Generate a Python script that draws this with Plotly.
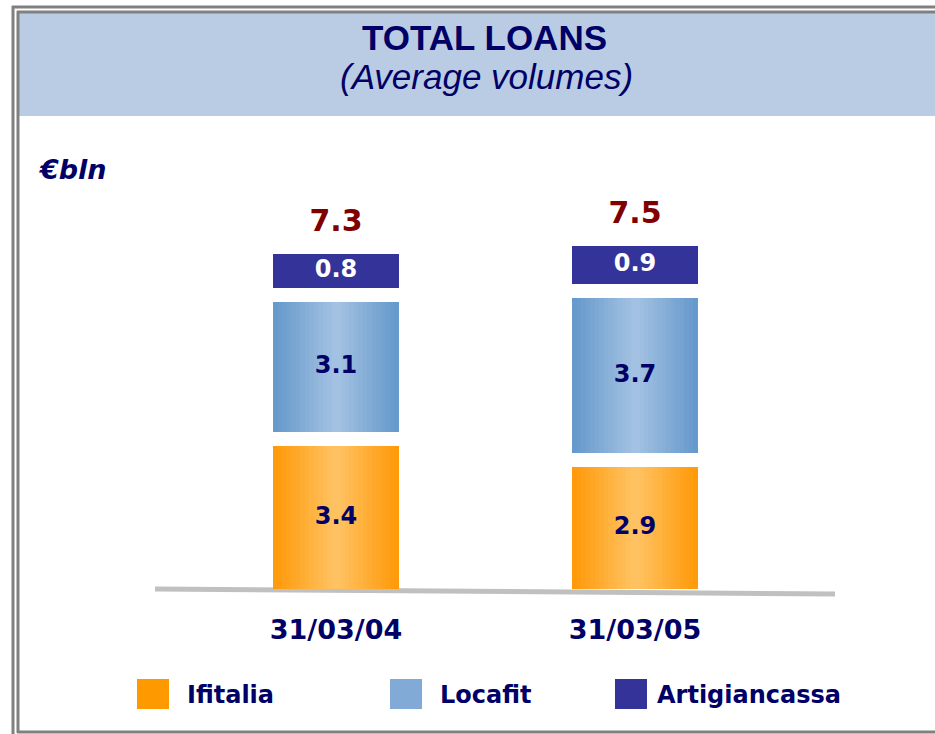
import plotly.graph_objects as go

# ---------------- data ----------------
categories = ["31/03/04", "31/03/05"]
series_names = ["Ifitalia", "Locafit", "Artigiancassa"]
ifitalia = [3.4, 2.9]
locafit = [3.1, 3.7]
artigiancassa = [0.8, 0.9]
totals = [7.3, 7.5]
unit_label = "€bln"
title_main = "TOTAL LOANS"
title_sub = "(Average volumes)"

# ---------------- styles ----------------
W, H = 935, 734
BASE_PX = 589          # pixel row of the baseline
PX_PER_UNIT = 42
GAP = 14 / PX_PER_UNIT  # white gap between stacked segments (data units)
TOTAL_PAD = 16 / PX_PER_UNIT
BAR_W = 0.421
NAVY = "#000066"
DARKRED = "#800000"
FONT = "DejaVu Sans, Verdana, sans-serif"
TITLE_FONT = "Liberation Sans, Arial, sans-serif"

grad = {
    "Ifitalia": ("#FF9A0A", "#FFC262"),
    "Locafit": ("#6699CC", "#A3C1E2"),
    "Artigiancassa": ("#333399", "#333399"),
}
legend_col = {"Ifitalia": "#FF9900", "Locafit": "#82AAD6", "Artigiancassa": "#333399"}
label_col = {"Ifitalia": NAVY, "Locafit": NAVY, "Artigiancassa": "white"}


def px_x(x):
    return x / W


def px_y(y):
    return (BASE_PX - y) / BASE_PX


def mix(c1, c2, t):
    a = [int(c1[i:i + 2], 16) for i in (1, 3, 5)]
    b = [int(c2[i:i + 2], 16) for i in (1, 3, 5)]
    return "#" + "".join(f"{round(a[k] + (b[k] - a[k]) * t):02x}" for k in range(3))


# stacked bases computed from data
values = {"Ifitalia": ifitalia, "Locafit": locafit, "Artigiancassa": artigiancassa}
bases = {}
running = [0.0, 0.0]
for name in series_names:
    bases[name] = list(running)
    running = [running[i] + values[name][i] + GAP for i in range(2)]
tops = [running[i] - GAP for i in range(2)]

fig = go.Figure()
N = 14
for name in series_names:
    dark, light = grad[name]
    layers = N if dark != light else 1
    for i in range(layers):
        frac = 1 - i / N
        t = i / (N - 1)
        fig.add_trace(go.Bar(
            x=categories, y=values[name], base=bases[name],
            width=BAR_W * frac, marker=dict(color=mix(dark, light, t), line=dict(width=0)),
            showlegend=False, hoverinfo="skip"))
    # value labels
    fig.add_trace(go.Scatter(
        x=categories, y=[bases[name][i] + values[name][i] / 2 for i in range(2)],
        mode="text", text=[f"{v:.1f}" for v in values[name]],
        textfont=dict(family=FONT, size=24, color=label_col[name], weight="bold"),
        showlegend=False, hoverinfo="skip", cliponaxis=False))

# totals
fig.add_trace(go.Scatter(
    x=categories, y=[tp + TOTAL_PAD for tp in tops], mode="text", text=[f"{v:.1f}" for v in totals],
    textposition="top center",
    textfont=dict(family=FONT, size=30, color=DARKRED, weight="bold"),
    showlegend=False, hoverinfo="skip", cliponaxis=False))

grey = "#808080"


def pline(x0, y0, x1, y1, color=grey, width=3, layer="above"):
    return dict(type="line", xref="paper", yref="paper", x0=px_x(x0), x1=px_x(x1),
                y0=px_y(y0), y1=px_y(y1), line=dict(color=color, width=width), layer=layer)


def prect(x0, y0, x1, y1, color, layer="above"):
    return dict(type="rect", xref="paper", yref="paper", x0=px_x(x0), x1=px_x(x1),
                y0=px_y(y1), y1=px_y(y0), fillcolor=color, line=dict(width=0), layer=layer)


shapes = [
    prect(19, 13, W + 5, 116, "#BACCE3", layer="below"),
    pline(13, 6, 13, H + 5),
    pline(12, 7, W + 5, 7),
    pline(18, 11, 18, 733),
    pline(17, 12, W + 5, 12),
    pline(17, 732, W + 5, 732),
    # slanted baseline
    pline(155, 589, 835, 594, color="#C0C0C0", width=5, layer="below"),
]

annotations = [
    dict(text=f"<b>{title_main}</b>", x=px_x(485), y=px_y(37), xref="paper", yref="paper",
         xanchor="center", yanchor="middle", showarrow=False,
         font=dict(family=TITLE_FONT, size=35, color=NAVY)),
    dict(text=f"<i>{title_sub}</i>", x=px_x(486), y=px_y(76), xref="paper", yref="paper",
         xanchor="center", yanchor="middle", showarrow=False,
         font=dict(family=TITLE_FONT, size=35, color=NAVY)),
    dict(text=f"<b><i>{unit_label}</i></b>", x=px_x(36), y=px_y(170), xref="paper", yref="paper",
         xanchor="left", yanchor="middle", showarrow=False,
         font=dict(family=FONT, size=27, color=NAVY)),
]

# legend (custom, larger squares)
leg_sq_x = [137, 390, 615]
leg_txt_x = [185, 438, 655]
for name, sx, tx in zip(series_names, leg_sq_x, leg_txt_x):
    shapes.append(prect(sx, 679, sx + 32, 709, legend_col[name]))
    annotations.append(dict(text=f"<b>{name}</b>", x=px_x(tx), y=px_y(695), xref="paper", yref="paper",
                            xanchor="left", yanchor="middle", showarrow=False,
                            font=dict(family=FONT, size=24, color=NAVY)))

fig.update_layout(
    width=W, height=H, margin=dict(l=0, r=0, t=0, b=H - BASE_PX),
    paper_bgcolor="white", plot_bgcolor="rgba(0,0,0,0)",
    barmode="overlay", showlegend=False,
    shapes=shapes, annotations=annotations,
    xaxis=dict(type="category", range=[-336 / 299, (W - 336) / 299], showgrid=False, zeroline=False,
               showline=False, ticks="", ticklabelstandoff=22, automargin=False,
               tickfont=dict(family=FONT, size=27, color=NAVY, weight="bold")),
    yaxis=dict(range=[0, BASE_PX / PX_PER_UNIT], visible=False, showgrid=False, zeroline=False,
               automargin=False),
)

post = (
    "document.body.style.margin='0';document.body.style.overflow='hidden';"
    "document.querySelectorAll('.bars path').forEach(function(p){p.style.shapeRendering='crispEdges';});"
)
fig.write_html("out.html", config={"displayModeBar": False}, post_script=post)
